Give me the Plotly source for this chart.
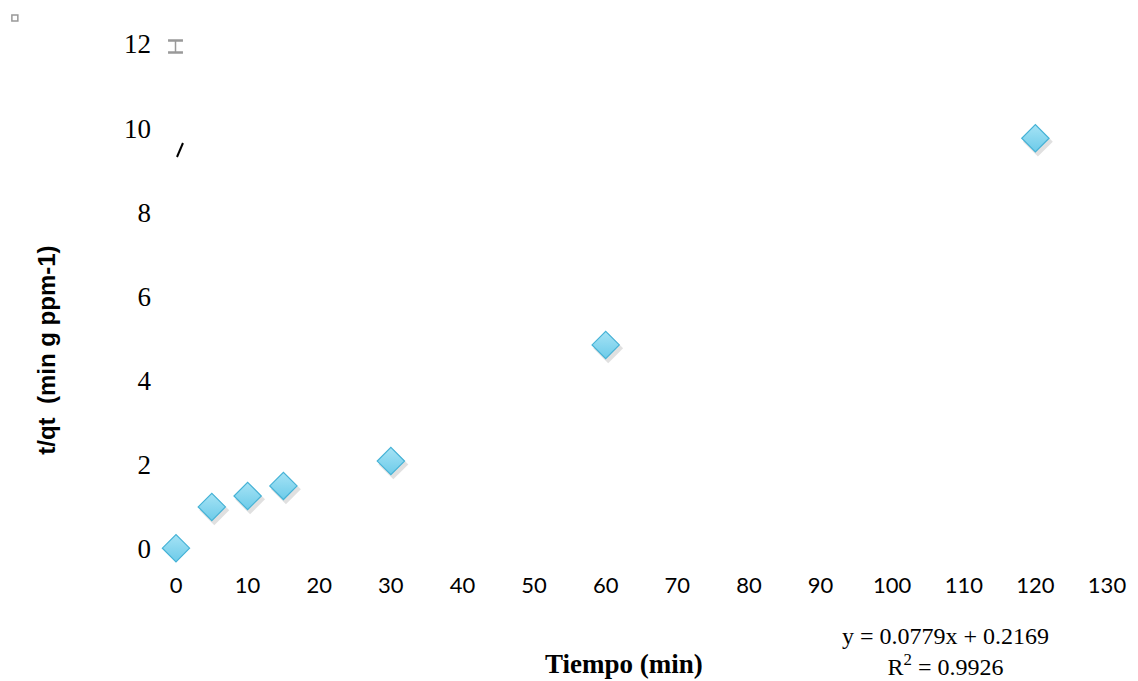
import plotly.graph_objects as go

tiempo = [0, 5, 10, 15, 30, 60, 120]
t_qt = [0.02, 1.0, 1.26, 1.50, 2.09, 4.85, 9.76]
x_ticks = list(range(0, 131, 10))
y_ticks = list(range(0, 13, 2))

SERIF = "Liberation Serif"
SANS = "Lato"

fig = go.Figure()
# invisible carrier trace so the main axes (ticks/labels) are drawn
fig.add_trace(go.Scatter(
    x=tiempo, y=t_qt, mode="markers",
    marker=dict(size=1, opacity=0), hoverinfo="skip", showlegend=False,
))
# soft shadow beneath the markers (slightly shifted overlay axes)
fig.add_trace(go.Scatter(
    x=tiempo, y=t_qt, mode="markers", xaxis="x2", yaxis="y2",
    marker=dict(symbol="diamond", size=23, color="rgba(0,0,0,0.12)", line=dict(width=0)),
    hoverinfo="skip", showlegend=False, cliponaxis=False,
))
fig.add_trace(go.Scatter(
    x=tiempo, y=t_qt, mode="markers", xaxis="x3", yaxis="y3",
    marker=dict(symbol="diamond", size=21, color="#a6e3f5",
                gradient=dict(type="vertical", color="#6dcbe9"),
                line=dict(color="#45b2d6", width=1.2)),
    showlegend=False, cliponaxis=False,
))

axis_common = dict(showline=False, showgrid=False, zeroline=False, ticks="")
fig.update_layout(
    width=1138, height=681,
    margin=dict(l=176, r=26, t=44, b=132),
    plot_bgcolor="white", paper_bgcolor="white",
    xaxis=dict(range=[0, 130], tickvals=x_ticks, ticktext=[str(v) for v in x_ticks],
               tickfont=dict(family=SANS, size=22, color="#000"), ticklabelstandoff=21,
               **axis_common),
    yaxis=dict(range=[0, 12], tickvals=y_ticks, ticktext=[str(v) for v in y_ticks],
               tickfont=dict(family=SERIF, size=27, color="#000"), ticklabelstandoff=24,
               **axis_common),
    xaxis2=dict(range=[-0.35, 129.65], overlaying="x", visible=False),
    yaxis2=dict(range=[0.08, 12.08], overlaying="y", visible=False),
    xaxis3=dict(range=[0, 130], overlaying="x", visible=False),
    yaxis3=dict(range=[0, 12], overlaying="y", visible=False),
)

def px_x(p):
    return (p - 176) / 936

def px_y(p):
    return (549 - p) / 505

fig.add_annotation(text="<b>Tiempo (min)</b>", xref="paper", yref="paper",
                   x=px_x(626), y=px_y(664), xanchor="center", yanchor="middle",
                   showarrow=False, font=dict(family=SERIF, size=27, color="#000"))
fig.add_annotation(text="<b>t/qt  (min g ppm-1)</b>", xref="paper", yref="paper",
                   x=px_x(45), y=px_y(350), xanchor="center", yanchor="middle",
                   showarrow=False, textangle=-90,
                   font=dict(family="Liberation Sans", size=24, color="#000"))
fig.add_annotation(text="y = 0.0779x + 0.2169<br>R<sup>2</sup> = 0.9926",
                   xref="paper", yref="paper", align="center",
                   x=px_x(950), y=px_y(651), xanchor="center", yanchor="middle",
                   borderpad=0, showarrow=False,
                   font=dict(family=SERIF, size=24, color="#000"))

# small stray artefacts seen in the reference
fig.add_shape(type="rect", xref="paper", yref="paper",
              x0=px_x(11), x1=px_x(17), y0=px_y(21), y1=px_y(15),
              line=dict(color="#999", width=1.5))
cur = dict(color="#999999", width=2.5)
fig.add_shape(type="line", xref="paper", yref="paper",
              x0=px_x(168), x1=px_x(183), y0=px_y(40.5), y1=px_y(40.5), line=cur)
fig.add_shape(type="line", xref="paper", yref="paper",
              x0=px_x(175.5), x1=px_x(175.5), y0=px_y(40), y1=px_y(53),
              line=dict(color="#999999", width=1.5))
fig.add_shape(type="line", xref="paper", yref="paper",
              x0=px_x(168), x1=px_x(183), y0=px_y(52.5), y1=px_y(52.5), line=cur)
fig.add_shape(type="line", xref="paper", yref="paper",
              x0=px_x(177), x1=px_x(183), y0=px_y(157), y1=px_y(143),
              line=dict(color="#000", width=2))

fig.write_html("out.html")
